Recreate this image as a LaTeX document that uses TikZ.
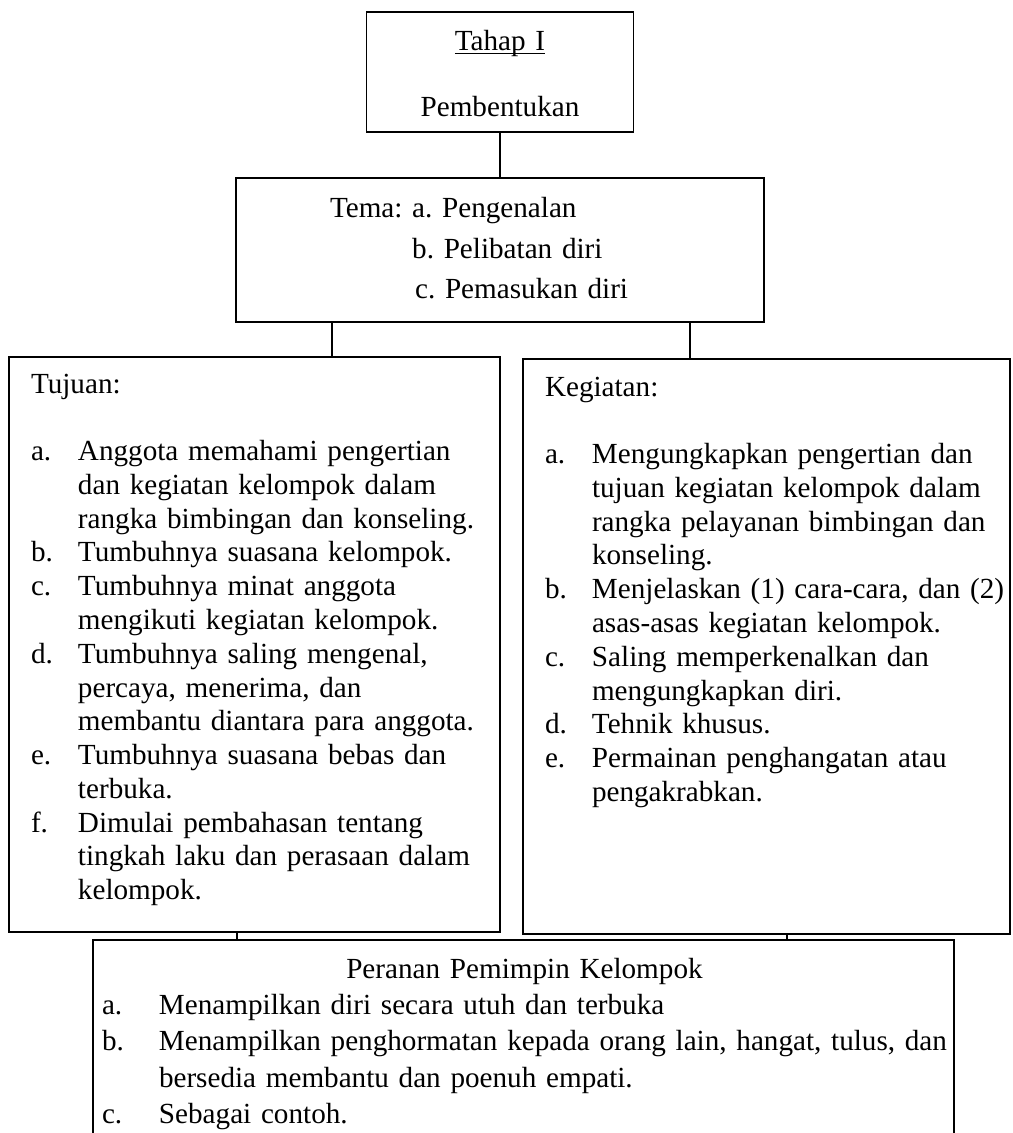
\documentclass[tikz,border=0pt]{standalone}
\usepackage{fontspec}
\setmainfont{Liberation Serif}
\usetikzlibrary{positioning}
\frenchspacing
\newlength\px
\setlength\px{0.4115pt}

\begin{document}
\begin{tikzpicture}[x=\px, y={(0,-\px)}, line width=0.7pt, node distance=1cm,
      every node/.style={font=\fontsize{12}{13.9}\selectfont},
      box/.style={draw, inner sep=0pt, outer sep=0pt, align=left}]

      \clip (0,0) rectangle (1013,1133);

      \node[box, anchor=north, align=center, text width=240\px, inner xsep=13.5\px, text height=38\px, text depth=82\px] (tahap) at (500,12) {\underline{\smash{Tahap I}}\\[13.3pt]Pembentukan};

      \node[box, text width=340\px, inner xsep=94\px, minimum height=144\px, font=\fontsize{12}{16.5}\selectfont] (tema) [below=46\px of tahap]
        {\begin{tabular}{@{}l@{ }l@{}} Tema: & a. Pengenalan\\ & b. Pelibatan diri\\ & \hspace{1.2pt}c. Pemasukan diri \end{tabular}};

      \node[box, text width=447\px, inner xsep=22\px, text height=36\px, text depth=539\px] (tujuan) [below=35\px of tema.south west, anchor=north west, xshift=-227\px]
        {\begin{tabular}[t]{@{}p{47\px}@{}l@{}}
          \multicolumn{2}{@{}l@{}}{Tujuan:}\\ \\
          a. & Anggota memahami pengertian\\
             & dan kegiatan kelompok dalam\\
             & rangka bimbingan dan konseling.\\
          b. & Tumbuhnya suasana kelompok.\\
          c. & Tumbuhnya minat anggota\\
             & mengikuti kegiatan kelompok.\\
          d. & Tumbuhnya saling mengenal,\\
             & percaya, menerima, dan\\
             & membantu diantara para anggota.\\
          e. & Tumbuhnya suasana bebas dan\\
             & terbuka.\\
          f. & Dimulai pembahasan tentang\\
             & tingkah laku dan perasaan dalam\\
             & kelompok.
        \end{tabular}};

      \node[box, text width=443\px, inner xsep=22\px, text height=37\px, text depth=538\px] (kegiatan) [below=37\px of tema.south east, anchor=north east, xshift=246\px]
        {\begin{tabular}[t]{@{}p{47\px}@{}l@{}}
          \multicolumn{2}{@{}l@{}}{Kegiatan:}\\ \\
          a. & Mengungkapkan pengertian dan\\
             & tujuan kegiatan kelompok dalam\\
             & rangka pelayanan bimbingan dan\\
             & konseling.\\
          b. & Menjelaskan (1) cara-cara, dan (2)\\
             & asas-asas kegiatan kelompok.\\
          c. & Saling memperkenalkan dan\\
             & mengungkapkan diri.\\
          d. & Tehnik khusus.\\
          e. & Permainan penghangatan atau\\
             & pengakrabkan.
        \end{tabular}};

      \node[box, text width=843\px, inner xsep=9\px, text height=38\px, text depth=200\px, font=\fontsize{12}{15}\selectfont] (peranan) [below=8\px of tujuan.south west, anchor=north west, xshift=84\px]
        {\begin{tabular}[t]{@{}p{57\px}@{}l@{}}
          \multicolumn{2}{c}{Peranan Pemimpin Kelompok}\\
          a. & Menampilkan diri secara utuh dan terbuka\\
          b. & Menampilkan penghormatan kepada orang lain, hangat, tulus, dan\\
             & bersedia membantu dan poenuh empati.\\
          c. & Sebagai contoh.
        \end{tabular}};

      \coordinate (temaL) at ([xshift=96\px]tema.south west);
      \coordinate (temaR) at ([xshift=-74\px]tema.south east);
      \coordinate (tujuanB) at ([xshift=228\px]tujuan.south west);
      \coordinate (kegiatanB) at ([xshift=264\px]kegiatan.south west);

      \draw (tahap) -- (tema);
      \draw (temaL) -- (temaL |- tujuan.north);
      \draw (temaR) -- (temaR |- kegiatan.north);
      \draw (tujuanB) -- (tujuanB |- peranan.north);
      \draw (kegiatanB) -- (kegiatanB |- peranan.north);

    \end{tikzpicture}
\end{document}
